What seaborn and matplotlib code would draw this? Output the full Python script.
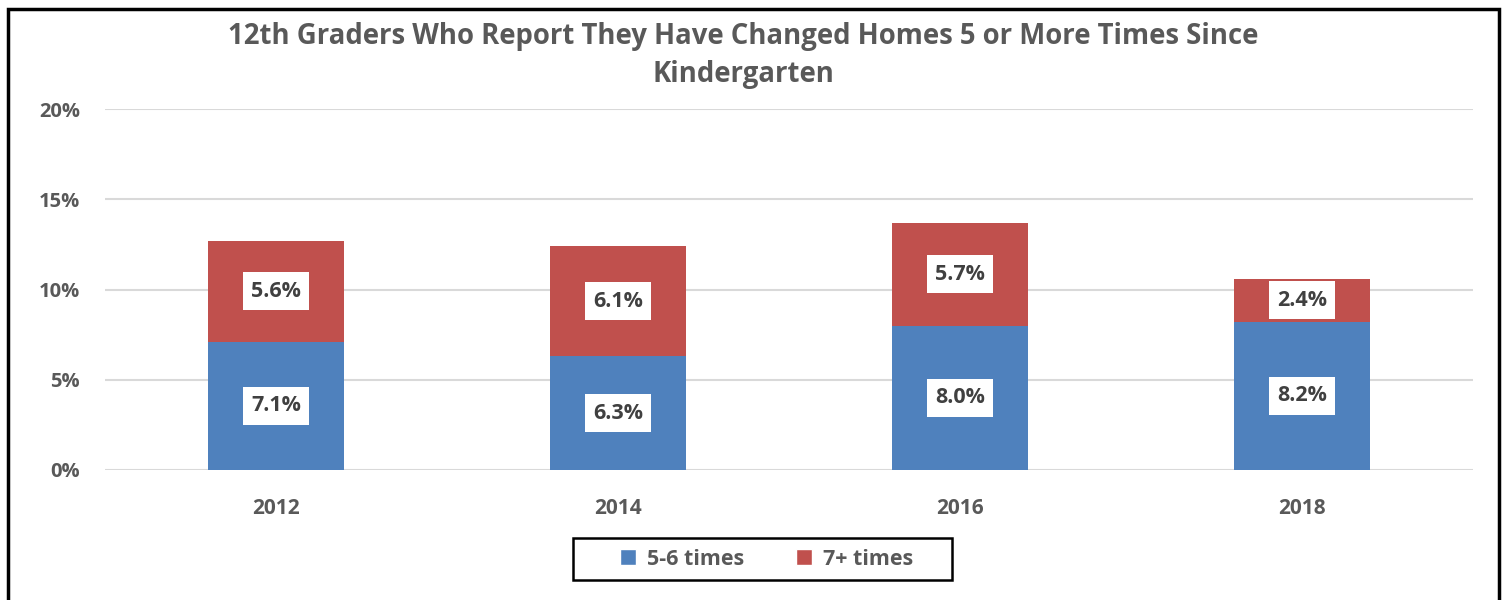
import matplotlib
matplotlib.use('Agg')
import matplotlib.pyplot as plt
import seaborn as sns
import pandas as pd
from matplotlib.patches import Patch, Rectangle

years = ['2012', '2014', '2016', '2018']
times_5_6 = [7.1, 6.3, 8.0, 8.2]
times_7_plus = [5.6, 6.1, 5.7, 2.4]
yticks = [0, 5, 10, 15, 20]

blue = '#4F81BD'
red = '#C0504D'
gray = '#595959'

sns.set_theme(style='white')
plt.rcParams['font.family'] = ['Open Sans', 'DejaVu Sans']
plt.rcParams['font.weight'] = 'bold'

df = pd.DataFrame({'year': years, 'low': times_5_6, 'high': times_7_plus})

fig = plt.figure(figsize=(15.07, 6.0), dpi=100)
ax = fig.add_axes([0.0697, 0.2167, 0.9078, 0.6016])

sns.barplot(data=df, x='year', y='low', color=blue, width=0.4, ax=ax,
            saturation=1, edgecolor='none')
sns.barplot(data=df, x='year', y='high', bottom=df['low'], color=red,
            width=0.4, ax=ax, saturation=1, edgecolor='none')

# labels in white boxes
for i in range(len(years)):
    lo = times_5_6[i]
    hi = times_7_plus[i]
    ax.text(i, lo / 2, f'{lo:.1f}%', ha='center', va='center', fontsize=15.5,
            fontweight='bold', color='#404040',
            bbox=dict(facecolor='white', edgecolor='none', pad=6))
    ax.text(i, lo + hi / 2, f'{hi:.1f}%', ha='center', va='center', fontsize=15.5,
            fontweight='bold', color='#404040',
            bbox=dict(facecolor='white', edgecolor='none', pad=6))

ax.set_xlim(-0.5, 3.5)
ax.set_ylim(0, 20)
ax.set_yticks(yticks)
ax.set_yticklabels([f'{t}%' for t in yticks], fontsize=14.5, fontweight='bold', color=gray)
ax.set_xticklabels(years, fontsize=15, fontweight='bold', color=gray)
ax.tick_params(axis='x', length=0, pad=20)
ax.tick_params(axis='y', length=0, pad=18)
ax.yaxis.grid(True, color='#D9D9D9', linewidth=1.5)
ax.set_axisbelow(True)
ax.set_xlabel('')
ax.set_ylabel('')
for s in ax.spines.values():
    s.set_visible(False)

fig.text(0.493, 0.907, '12th Graders Who Report They Have Changed Homes 5 or More Times Since\nKindergarten',
         ha='center', va='center', fontsize=19.8, fontweight='bold', color=gray,
         linespacing=1.4)

# legend without its own frame, box drawn separately
handles = [Patch(facecolor=blue, label='5-6 times'), Patch(facecolor=red, label='7+ times')]
leg = fig.legend(handles=handles, loc='center', bbox_to_anchor=(0.5086, 0.068), ncol=2,
                 frameon=False, prop={'weight': 'bold', 'size': 15.5},
                 handlelength=0.75, handleheight=0.75, handletextpad=0.5,
                 columnspacing=2.4, borderaxespad=0, labelcolor=gray)
fig.patches.append(Rectangle((0.3802, 0.0333), 0.2515, 0.07, transform=fig.transFigure,
                             fill=False, edgecolor='black', linewidth=1.8))

fig.patches.append(Rectangle((0.005, -0.01), 0.99, 0.995, transform=fig.transFigure,
                             fill=False, edgecolor='black', linewidth=2.5))

fig.savefig('out.png', dpi=100)
